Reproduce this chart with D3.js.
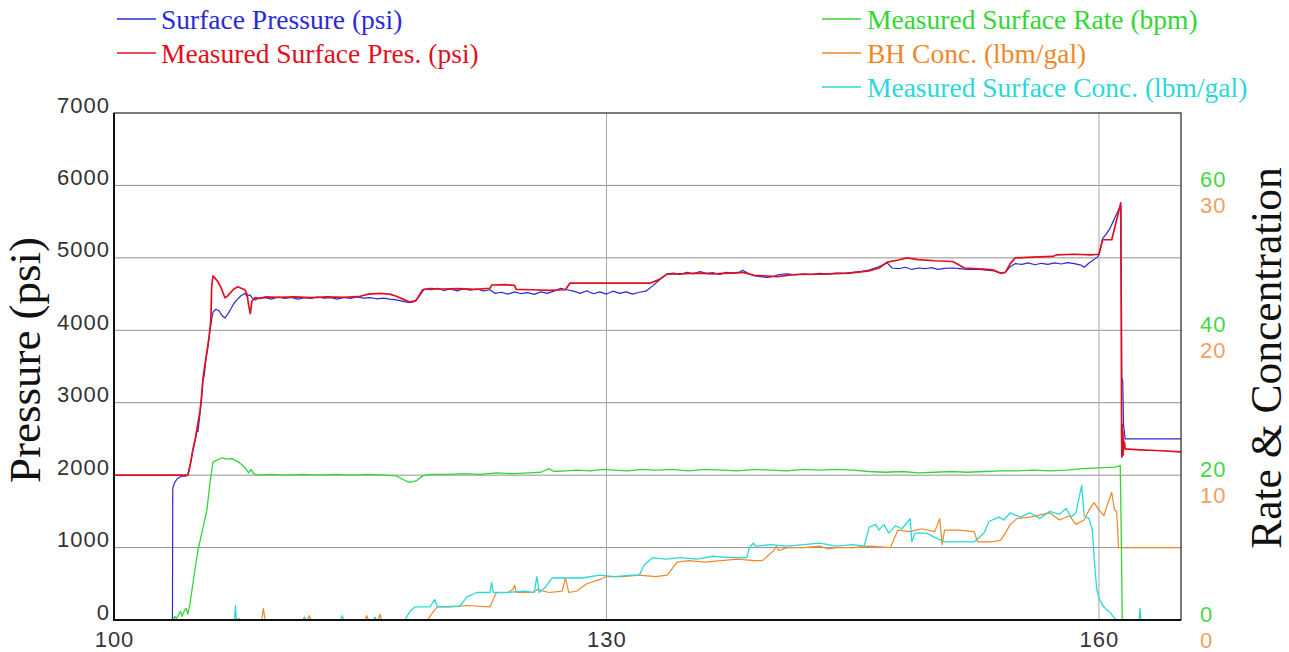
<!DOCTYPE html>
<html>
<head>
<meta charset="utf-8">
<script src="https://cdn.jsdelivr.net/npm/d3@7/dist/d3.min.js"></script>
<style>
  html, body { margin: 0; padding: 0; background: #ffffff; }
  svg { display: block; }
</style>
</head>
<body>
<svg id="chart" width="1289" height="652"></svg>
<script>
// Treatment record: time (min) vs pressure, rate and proppant concentration

const timeTicks = [100, 130, 160];
const pressureTicks = [0, 1000, 2000, 3000, 4000, 5000, 6000, 7000];
const rateTicks = [0, 20, 40, 60];
const concTicks = [0, 10, 20, 30];

// Surface Pressure (psi) — [time, psi]
const surfacePressure = [
  [100,0],[103.56,0],[103.58,1820],[103.7,1900],[103.85,1950],[104.02,1975],[104.2,1990],[104.35,1985],
  [104.5,2000],[104.65,2150],[104.81,2350],[104.95,2480],[105.05,2620],[105.12,2600],[105.24,2860],
  [105.33,3050],[105.42,3310],[105.5,3380],[105.6,3600],[105.72,3770],[105.85,4000],[105.95,4150],
  [106.03,4250],[106.2,4290],[106.4,4270],[106.6,4200],[106.76,4170],[106.95,4230],[107.13,4300],
  [107.3,4370],[107.49,4420],[107.7,4470],[107.98,4510],[108.1,4470],[108.28,4490],[108.45,4440],
  [108.59,4420],[108.8,4440],[109.2,4450],[109.6,4430],[110.0,4460],[110.4,4440],[110.8,4455],
  [111.2,4430],[111.6,4450],[112.0,4440],[112.4,4460],[112.8,4445],[113.2,4450],[113.6,4430],
  [114.0,4455],[114.4,4440],[114.8,4460],[115.2,4445],[115.6,4450],[116.0,4435],[116.4,4445],
  [116.8,4430],[117.2,4420],[117.6,4400],[118.0,4380],[118.3,4395],[118.6,4470],[118.9,4570],
  [119.3,4560],[119.7,4580],[120.1,4550],[120.5,4570],[120.9,4545],[121.3,4575],[121.7,4555],
  [122.1,4570],[122.5,4545],[122.9,4560],[123.2,4510],[123.6,4525],[124.0,4500],[124.4,4530],
  [124.8,4505],[125.2,4520],[125.6,4495],[126.0,4530],[126.4,4510],[126.8,4540],[127.2,4580],
  [127.6,4560],[128.0,4540],[128.4,4510],[128.8,4545],[129.2,4505],[129.6,4530],[130.0,4500],
  [130.4,4540],[130.8,4510],[131.2,4530],[131.6,4500],[132.0,4525],[132.4,4540],[132.8,4610],
  [133.2,4690],[133.7,4780],[134.1,4790],[134.5,4770],[134.9,4800],[135.3,4780],[135.7,4810],
  [136.1,4785],[136.5,4795],[136.9,4770],[137.3,4800],[137.7,4785],[138.1,4800],[138.3,4830],
  [138.6,4790],[139.0,4750],[139.4,4740],[139.8,4730],[140.2,4745],[140.5,4770],[141.0,4780],
  [141.5,4765],[142.0,4780],[142.5,4770],[143.0,4785],[143.5,4775],[144.0,4790],[144.5,4785],
  [145.0,4800],[145.5,4810],[146.0,4830],[146.5,4870],[147.1,4930],[147.4,4860],[147.8,4850],
  [148.2,4870],[148.6,4840],[149.0,4860],[149.4,4850],[149.8,4865],[150.2,4840],[150.6,4855],
  [151.1,4860],[151.5,4850],[152.0,4840],[152.5,4845],[153.0,4835],[153.6,4820],[154.0,4790],
  [154.3,4800],[154.6,4880],[154.9,4920],[155.3,4910],[155.7,4930],[156.1,4905],[156.5,4925],
  [156.9,4910],[157.3,4930],[157.7,4915],[158.1,4935],[158.5,4920],[158.9,4900],[159.1,4870],
  [159.4,4930],[159.9,5010],[160.0,5040],[160.23,5270],[160.45,5330],[160.66,5400],[160.9,5520],
  [161.1,5620],[161.27,5700],[161.33,5720],[161.37,4400],[161.39,3350],[161.45,3300],[161.5,2700],
  [161.6,2500],[165,2500]
];

// Measured Surface Pres. (psi) — [time, psi]
const measuredPressure = [
  [100,2000],[104.5,2000],[104.65,2150],[104.81,2360],[104.95,2500],[105.05,2640],[105.24,2880],
  [105.33,3080],[105.42,3330],[105.6,3620],[105.72,3790],[105.85,4020],[105.9,4150],[105.95,4600],
  [106.03,4750],[106.15,4720],[106.3,4680],[106.5,4600],[106.76,4450],[106.9,4470],[107.1,4520],
  [107.3,4570],[107.55,4600],[107.75,4580],[107.98,4560],[108.1,4500],[108.2,4350],[108.3,4230],
  [108.4,4400],[108.59,4450],[108.9,4440],[109.2,4460],[110,4455],[111,4460],[112,4450],[113,4460],
  [114,4455],[115,4470],[115.5,4500],[116.2,4510],[116.8,4500],[117.2,4470],[117.6,4430],[118.0,4390],
  [118.4,4410],[118.8,4560],[119.2,4575],[120,4570],[121,4575],[122,4565],[122.9,4580],[123.0,4625],
  [123.8,4630],[124.4,4620],[124.5,4565],[125.5,4560],[126.5,4550],[127.5,4560],[127.77,4650],
  [129,4650],[130,4652],[131,4650],[132.64,4650],[133.2,4700],[133.7,4775],[134.5,4780],[135.5,4790],
  [136.5,4780],[137.5,4790],[138.3,4800],[139,4760],[140.4,4740],[141.5,4770],[143,4775],[144.8,4790],
  [146,4820],[146.6,4860],[147.1,4940],[147.8,4970],[148.3,5000],[149,4975],[150,4960],[151.1,4950],
  [151.8,4860],[153,4845],[153.6,4830],[154,4790],[154.3,4800],[154.6,4920],[154.9,5000],[156,5010],
  [157.2,5020],[157.4,5040],[158.5,5050],[159.5,5040],[160,5050],[160.23,5250],[160.78,5250],
  [161.27,5700],[161.33,5760],[161.36,4200],[161.38,2600],[161.40,2250],[161.42,2700],[161.44,2300],
  [161.46,2600],[161.48,2280],[161.5,2500],[161.53,2380],[161.56,2450],[161.6,2360],[161.8,2360],
  [162.5,2350],[163.5,2340],[165,2320]
];

// Measured Surface Rate (bpm) — [time, bpm]
const surfaceRate = [
  [100,0],[103.6,0],[103.7,0.5],[103.8,0.2],[103.95,0.8],[104.05,1.2],[104.15,0.5],[104.3,1.4],
  [104.4,1.6],[104.5,0.8],[104.63,2.3],[104.93,6.9],[105.12,9.7],[105.4,12.5],[105.66,15.2],
  [105.85,19],[106.03,21.8],[106.3,22.1],[106.6,22.4],[106.9,22.2],[107.2,22.3],[107.4,22.0],
  [107.6,21.8],[108.0,21.0],[108.2,20.3],[108.35,20.8],[108.5,20.2],[108.7,20.0],[109.5,20.1],
  [110.5,20.0],[111.5,20.1],[112.5,20.0],[113.5,20.1],[114.5,20.0],[115.5,20.1],[116.5,20.0],
  [117.2,19.9],[117.6,19.4],[118.0,19.0],[118.4,19.2],[118.8,19.9],[119.3,20.1],[120.3,20.1],
  [121.3,20.2],[122.3,20.1],[123.3,20.3],[124.3,20.2],[125.3,20.3],[126.0,20.4],[126.5,20.9],
  [126.8,20.5],[127.5,20.6],[128.2,20.7],[129,20.6],[129.8,20.8],[130.5,20.7],[131.3,20.6],
  [132.1,20.8],[133,20.7],[134,20.8],[135,20.6],[136,20.8],[137,20.7],[138,20.6],[139,20.8],
  [140,20.7],[141,20.6],[142,20.8],[143,20.7],[144,20.8],[145,20.7],[146,20.5],[147,20.4],
  [148,20.5],[149,20.3],[150,20.4],[151,20.5],[152,20.4],[153,20.5],[154,20.6],[155,20.6],
  [156,20.7],[157,20.6],[158,20.7],[159,20.9],[160,21.0],[161.0,21.1],[161.3,21.3],[161.36,12],
  [161.42,0],[165,0]
];

// BH Conc. (lbm/gal) — [time, lbm/gal]
const bhConc = [
  [100,0],[107.5,0],[107.6,0.1],[107.7,0],[109.0,0],[109.1,0.8],[109.2,0],[111.8,0],[111.9,0.3],
  [112,0],[115.3,0],[115.4,0.3],[115.5,0],[116.1,0],[116.2,0.4],[116.3,0],[119.1,0],[119.4,0.5],
  [119.7,0.9],[120.5,0.9],[121.5,1.0],[122.9,0.9],[123.3,1.9],[124.0,1.9],[124.3,2.1],[124.4,2.4],
  [124.5,1.9],[125.5,1.9],[125.8,2.1],[126.5,1.9],[127.3,2.0],[127.5,2.9],[127.7,1.9],[128.2,2.0],
  [128.8,2.5],[129.6,2.8],[130,3.0],[131,3.0],[132,3.1],[133,3.0],[133.7,3.1],[134.3,4.0],[135,4.1],
  [136,4.0],[137,4.1],[138,4.2],[139,4.1],[139.5,4.1],[140.2,4.8],[140.35,5.1],[140.5,4.8],[141,5.0],
  [142,5.0],[143,5.1],[143.5,4.9],[144,5.0],[145,5.0],[146,5.1],[147.3,5.0],[147.75,6.2],[148.5,6.1],
  [149.2,6.3],[150.0,6.1],[150.3,7.0],[150.45,5.2],[150.6,6.2],[151.5,6.2],[152.4,6.1],[152.6,5.4],
  [153.5,5.4],[154.0,5.5],[154.3,6.0],[154.6,6.6],[155.0,7.0],[155.8,7.1],[157.0,7.4],[157.6,6.9],
  [158.2,7.2],[158.6,6.6],[159.1,6.9],[159.4,7.6],[159.7,8.1],[160.0,7.6],[160.3,7.2],[160.5,7.9],
  [160.78,8.8],[160.95,7.6],[161.08,7.5],[161.2,5.0],[165,5.0]
];

// Measured Surface Conc. (lbm/gal) — [time, lbm/gal]
const surfaceConc = [
  [100,0],[107.35,0],[107.4,1.0],[107.45,0],[111.5,0],[111.6,0.2],[111.7,0],[113.8,0],[113.9,0.3],
  [114.0,0],[115.8,0],[115.9,0.2],[116,0],[117.72,0],[118.03,0.6],[118.33,0.9],[119.24,0.9],
  [119.55,1.4],[119.7,0.9],[121.07,0.95],[121.5,1.6],[122.1,1.9],[122.9,1.9],[123.0,2.6],[123.1,1.9],
  [124,1.9],[125,2.0],[125.6,1.9],[125.76,3.0],[125.9,1.9],[126.3,2.3],[126.7,2.9],[127.5,2.9],
  [128.5,2.9],[129.6,3.1],[130.5,3.0],[131.5,3.1],[132.0,3.1],[132.3,3.8],[132.8,4.3],[133.6,4.2],
  [134.5,4.3],[135.5,4.2],[136.5,4.4],[137.5,4.3],[138.55,4.3],[138.7,5.0],[138.95,5.3],[139.1,5.1],
  [140,5.2],[141,5.1],[142,5.2],[143,5.3],[144,5.1],[145,5.2],[145.7,5.1],[146.0,6.4],[146.4,6.6],
  [146.6,6.2],[146.9,6.6],[147.2,6.0],[147.6,6.5],[148.0,6.3],[148.5,7.0],[148.6,5.4],[148.8,6.0],
  [149.5,6.0],[150.0,5.7],[150.6,5.4],[151.5,5.4],[152.4,5.4],[152.7,5.7],[153.0,6.0],[153.3,6.8],
  [153.9,7.1],[154.2,6.9],[154.6,7.4],[155.2,7.1],[155.8,7.4],[156.4,7.0],[157.0,7.5],[157.6,7.3],
  [158.0,7.7],[158.3,7.1],[158.6,7.4],[158.95,9.3],[159.1,7.2],[159.4,7.0],[159.6,6.2],[159.72,4.1],
  [159.87,2.1],[160.05,1.4],[160.23,1.0],[160.47,0.7],[160.66,0.55],[160.9,0.2],[161.08,0],
  [162.45,0],[162.5,0.8],[162.55,0],[165,0]
];

const legendLeft = [
  { label: "Surface Pressure (psi)", color: "#2a2ad8" },
  { label: "Measured Surface Pres. (psi)", color: "#e01020" }
];
const legendRight = [
  { label: "Measured Surface Rate (bpm)", color: "#33d633" },
  { label: "BH Conc. (lbm/gal)", color: "#f0882a" },
  { label: "Measured Surface Conc. (lbm/gal)", color: "#2ad8d8" }
];

const svg = d3.select("#chart");
const plot = { left: 114, right: 1181, top: 113, bottom: 620 };

const x = d3.scaleLinear().domain([100, 165]).range([plot.left, plot.right]);
const yP = d3.scaleLinear().domain([0, 7000]).range([plot.bottom, plot.top]);
const yRate = d3.scaleLinear().domain([0, 70]).range([plot.bottom, plot.top]);
const yConc = d3.scaleLinear().domain([0, 35]).range([plot.bottom, plot.top]);

// grid
const grid = svg.append("g").attr("class", "grid");
grid.selectAll("line.h").data(pressureTicks.filter(d => d > 0 && d < 7000)).join("line")
  .attr("x1", plot.left).attr("x2", plot.right)
  .attr("y1", d => yP(d)).attr("y2", d => yP(d))
  .attr("stroke", "#939393").attr("stroke-width", 1);
grid.selectAll("line.v").data(timeTicks.filter(d => d > 100)).join("line")
  .attr("x1", d => x(d)).attr("x2", d => x(d))
  .attr("y1", plot.top).attr("y2", plot.bottom)
  .attr("stroke", "#a8a8a8").attr("stroke-width", 1);

// series
const line = (yScale) => d3.line().x(d => x(d[0])).y(d => yScale(d[1]));
const series = [
  { data: bhConc, y: yConc, color: legendRight[1].color, w: 1.2 },
  { data: surfaceConc, y: yConc, color: legendRight[2].color, w: 1.3 },
  { data: surfaceRate, y: yRate, color: legendRight[0].color, w: 1.3 },
  { data: surfacePressure, y: yP, color: legendLeft[0].color, w: 1.2 },
  { data: measuredPressure, y: yP, color: legendLeft[1].color, w: 1.7 }
];
svg.append("g").selectAll("path").data(series).join("path")
  .attr("d", s => line(s.y)(s.data))
  .attr("fill", "none")
  .attr("stroke", s => s.color)
  .attr("stroke-width", s => s.w)
  .attr("stroke-linejoin", "round");

// frame
svg.append("rect")
  .attr("x", plot.left).attr("y", plot.top)
  .attr("width", plot.right - plot.left).attr("height", plot.bottom - plot.top)
  .attr("fill", "none").attr("stroke", "#222").attr("stroke-width", 1.2);
svg.append("line").attr("x1", plot.left).attr("x2", plot.left).attr("y1", plot.top).attr("y2", plot.bottom + 1)
  .attr("stroke", "#111").attr("stroke-width", 2);
svg.append("line").attr("x1", plot.left - 1).attr("x2", plot.right).attr("y1", plot.bottom).attr("y2", plot.bottom)
  .attr("stroke", "#111").attr("stroke-width", 2);

// left axis (pressure)
const tickFont = "'Liberation Sans', Arial, sans-serif";
const leftAxis = svg.append("g").attr("transform", `translate(${plot.left},0)`)
  .call(d3.axisLeft(yP).tickValues(pressureTicks).tickSize(0).tickFormat(d3.format("d")));
leftAxis.select(".domain").remove();
leftAxis.selectAll("text")
  .attr("x", -4).attr("dy", "-1px")
  .attr("font-family", tickFont).attr("font-size", 22).attr("letter-spacing", "1px")
  .attr("fill", "#333");

// bottom axis (time)
const bottomAxis = svg.append("g").attr("transform", `translate(0,${plot.bottom})`)
  .call(d3.axisBottom(x).tickValues(timeTicks).tickSize(0).tickFormat(d3.format("d")));
bottomAxis.select(".domain").remove();
bottomAxis.selectAll("text")
  .attr("y", 27).attr("dy", 0)
  .attr("font-family", tickFont).attr("font-size", 22).attr("letter-spacing", "1px")
  .attr("fill", "#333");

// right axes (rate and concentration share one column)
const rightRate = svg.append("g").attr("transform", `translate(${plot.right + 19},0)`)
  .call(d3.axisRight(yRate).tickValues(rateTicks).tickSize(0).tickFormat(d3.format("d")));
rightRate.select(".domain").remove();
rightRate.selectAll("text")
  .attr("x", 0).attr("dy", "1px")
  .attr("font-family", tickFont).attr("font-size", 22).attr("letter-spacing", "1px")
  .attr("fill", "#44d844");
const rightConc = svg.append("g").attr("transform", `translate(${plot.right + 19},0)`)
  .call(d3.axisRight(yConc).tickValues(concTicks).tickSize(0).tickFormat(d3.format("d")));
rightConc.select(".domain").remove();
rightConc.selectAll("text")
  .attr("x", 0).attr("dy", "27px")
  .attr("font-family", tickFont).attr("font-size", 22).attr("letter-spacing", "1px")
  .attr("fill", "#f0a060");
svg.selectAll(".tick text").attr("dominant-baseline", "auto");

// axis titles
const serif = "'Liberation Serif', 'Times New Roman', serif";
svg.append("text")
  .attr("transform", "translate(40,360) rotate(-90)")
  .attr("text-anchor", "middle")
  .attr("font-family", serif).attr("font-size", 45).attr("fill", "#111")
  .text("Pressure (psi)");
svg.append("text")
  .attr("transform", "translate(1281,358) rotate(-90)")
  .attr("text-anchor", "middle")
  .attr("font-family", serif).attr("font-size", 43.5).attr("fill", "#111")
  .text("Rate & Concentration");

// legends
function legend(items, x0, textX) {
  const g = svg.append("g");
  const rows = g.selectAll("g").data(items).join("g")
    .attr("transform", (d, i) => `translate(0,${29 + i * 34})`);
  rows.append("line")
    .attr("x1", x0).attr("x2", x0 + 39).attr("y1", -10).attr("y2", -10)
    .attr("stroke", d => d.color).attr("stroke-width", 1.3);
  rows.append("text")
    .attr("x", textX).attr("y", 0)
    .attr("font-family", serif).attr("font-size", 27.5)
    .attr("fill", d => d.color)
    .text(d => d.label);
}
legend(legendLeft, 117, 161);
legend(legendRight, 822, 867);
</script>
</body>
</html>
